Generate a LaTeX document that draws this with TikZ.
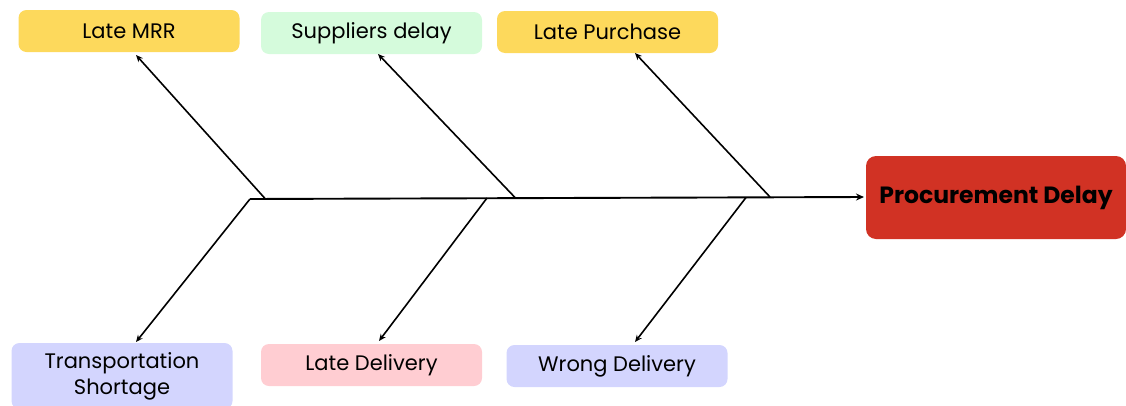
\documentclass[tikz,border=0pt]{standalone}
\usepackage{fontspec}
\setmainfont{Poppins}
\usetikzlibrary{arrows.meta}
\definecolor{cyellow}{HTML}{FDD95C}
\definecolor{cgreen}{HTML}{D5FBDC}
\definecolor{cred}{HTML}{D13224}
\definecolor{clav}{HTML}{D3D5FE}
\definecolor{cpink}{HTML}{FFCDD2}
\tikzset{
  cause/.style={rounded corners=8pt, minimum width=221pt, minimum height=42pt, inner sep=0pt, align=center, font=\fontsize{21}{26}\selectfont, text=black},
  effect/.style={rounded corners=10pt, fill=cred, minimum width=260pt, minimum height=83pt, inner sep=0pt, font=\bfseries\fontsize{23.5}{28}\selectfont, text=black},
  bone/.style={line width=1.6pt, -{Stealth[length=7pt,width=6pt]}},
  spine/.style={line width=1.9pt, -{Stealth[length=8pt,width=7pt]}}
}
\begin{document}
\begin{tikzpicture}[x=1pt,y=-1pt]
\useasboundingbox (0,0) rectangle (1126,405);
\node[cause, fill=cyellow] (mrr) at (129,31) {Late MRR};
\node[cause, fill=cgreen] (sup) at (371.5,33) {Suppliers delay};
\node[cause, fill=cyellow] (pur) at (607.5,32) {Late Purchase};
\node[effect] (eff) at (996,197.5) {Procurement Delay};
\node[cause, fill=clav, minimum height=66pt] (tra) at (122,376) {Transportation\\Shortage};
\node[cause, fill=cpink] (del) at (371.5,365) {Late Delivery};
\node[cause, fill=clav] (wro) at (617,366) {Wrong Delivery};
\coordinate (s0) at (250,199);
\coordinate (s1) at (864,197);
\draw[spine] (s0) -- (s1);
\coordinate (u1) at (265,198.5);
\coordinate (u2) at (515,197.5);
\coordinate (u3) at (770,197);
\coordinate (l1) at (250,199);
\coordinate (l2) at (487,198);
\coordinate (l3) at (746,197.5);
\coordinate (mrrT) at (136,55);
\coordinate (supT) at (378,54);
\coordinate (purT) at (635,53);
\coordinate (traT) at (136,342);
\coordinate (delT) at (379,341);
\coordinate (wroT) at (635,342);
\draw[bone] (u1) -- (mrrT);
\draw[bone] (u2) -- (supT);
\draw[bone] (u3) -- (purT);
\draw[bone] (l1) -- (traT);
\draw[bone] (l2) -- (delT);
\draw[bone] (l3) -- (wroT);
\end{tikzpicture}
\end{document}
